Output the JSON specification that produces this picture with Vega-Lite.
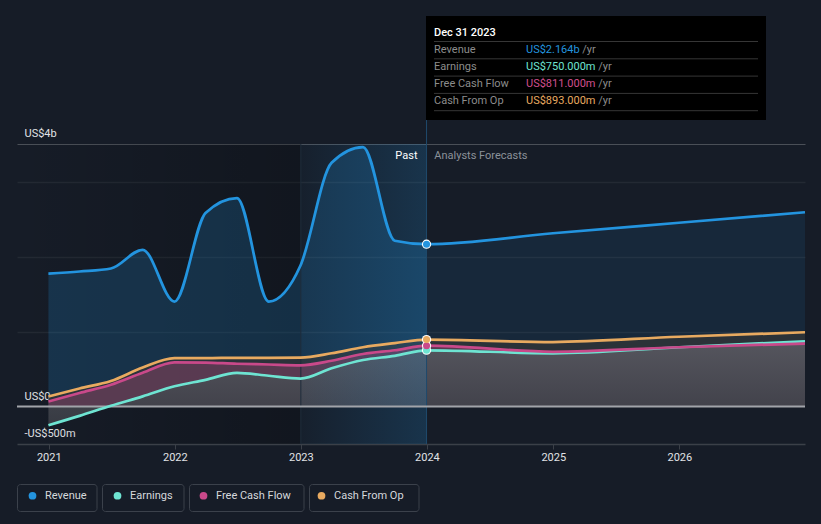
{
  "$schema": "https://vega.github.io/schema/vega-lite/v6.json",
  "width": 788,
  "height": 300,
  "autosize": {"type": "none"},
  "padding": {"left": 17, "top": 144, "right": 16, "bottom": 80},
  "background": "#161c27",
  "config": {"view": {"stroke": null}, "font": "Roboto", "text": {"font": "Roboto"}},
  "data": {"values": [
    {"date": "2020-12-31", "series": "Revenue", "value": 1.77},
    {"date": "2021-03-31", "series": "Revenue", "value": 1.80},
    {"date": "2021-06-30", "series": "Revenue", "value": 1.84},
    {"date": "2021-09-30", "series": "Revenue", "value": 2.09},
    {"date": "2021-12-31", "series": "Revenue", "value": 1.40},
    {"date": "2022-03-31", "series": "Revenue", "value": 2.58},
    {"date": "2022-06-30", "series": "Revenue", "value": 2.78},
    {"date": "2022-09-30", "series": "Revenue", "value": 1.40},
    {"date": "2022-12-31", "series": "Revenue", "value": 1.88},
    {"date": "2023-03-31", "series": "Revenue", "value": 3.25},
    {"date": "2023-06-30", "series": "Revenue", "value": 3.46},
    {"date": "2023-09-30", "series": "Revenue", "value": 2.21},
    {"date": "2023-12-31", "series": "Revenue", "value": 2.164},
    {"date": "2024-12-31", "series": "Revenue", "value": 2.31},
    {"date": "2025-12-31", "series": "Revenue", "value": 2.45},
    {"date": "2026-12-31", "series": "Revenue", "value": 2.59},
    {"date": "2020-12-31", "series": "Earnings", "value": -0.25},
    {"date": "2021-03-31", "series": "Earnings", "value": -0.125},
    {"date": "2021-06-30", "series": "Earnings", "value": 0.01},
    {"date": "2021-09-30", "series": "Earnings", "value": 0.135},
    {"date": "2021-12-31", "series": "Earnings", "value": 0.27},
    {"date": "2022-03-31", "series": "Earnings", "value": 0.355},
    {"date": "2022-06-30", "series": "Earnings", "value": 0.45},
    {"date": "2022-09-30", "series": "Earnings", "value": 0.41},
    {"date": "2022-12-31", "series": "Earnings", "value": 0.373},
    {"date": "2023-03-31", "series": "Earnings", "value": 0.51},
    {"date": "2023-06-30", "series": "Earnings", "value": 0.62},
    {"date": "2023-09-30", "series": "Earnings", "value": 0.675},
    {"date": "2023-12-31", "series": "Earnings", "value": 0.75},
    {"date": "2024-12-31", "series": "Earnings", "value": 0.71},
    {"date": "2025-12-31", "series": "Earnings", "value": 0.79},
    {"date": "2026-12-31", "series": "Earnings", "value": 0.87},
    {"date": "2020-12-31", "series": "Free Cash Flow", "value": 0.067},
    {"date": "2021-03-31", "series": "Free Cash Flow", "value": 0.18},
    {"date": "2021-06-30", "series": "Free Cash Flow", "value": 0.29},
    {"date": "2021-09-30", "series": "Free Cash Flow", "value": 0.45},
    {"date": "2021-12-31", "series": "Free Cash Flow", "value": 0.59},
    {"date": "2022-03-31", "series": "Free Cash Flow", "value": 0.585},
    {"date": "2022-06-30", "series": "Free Cash Flow", "value": 0.57},
    {"date": "2022-09-30", "series": "Free Cash Flow", "value": 0.56},
    {"date": "2022-12-31", "series": "Free Cash Flow", "value": 0.55},
    {"date": "2023-03-31", "series": "Free Cash Flow", "value": 0.61},
    {"date": "2023-06-30", "series": "Free Cash Flow", "value": 0.70},
    {"date": "2023-09-30", "series": "Free Cash Flow", "value": 0.75},
    {"date": "2023-12-31", "series": "Free Cash Flow", "value": 0.811},
    {"date": "2024-12-31", "series": "Free Cash Flow", "value": 0.73},
    {"date": "2025-12-31", "series": "Free Cash Flow", "value": 0.79},
    {"date": "2026-12-31", "series": "Free Cash Flow", "value": 0.84},
    {"date": "2020-12-31", "series": "Cash From Op", "value": 0.133},
    {"date": "2021-03-31", "series": "Cash From Op", "value": 0.24},
    {"date": "2021-06-30", "series": "Cash From Op", "value": 0.34},
    {"date": "2021-09-30", "series": "Cash From Op", "value": 0.52},
    {"date": "2021-12-31", "series": "Cash From Op", "value": 0.645},
    {"date": "2022-03-31", "series": "Cash From Op", "value": 0.645},
    {"date": "2022-06-30", "series": "Cash From Op", "value": 0.65},
    {"date": "2022-09-30", "series": "Cash From Op", "value": 0.65},
    {"date": "2022-12-31", "series": "Cash From Op", "value": 0.653},
    {"date": "2023-03-31", "series": "Cash From Op", "value": 0.71},
    {"date": "2023-06-30", "series": "Cash From Op", "value": 0.79},
    {"date": "2023-09-30", "series": "Cash From Op", "value": 0.845},
    {"date": "2023-12-31", "series": "Cash From Op", "value": 0.893},
    {"date": "2024-12-31", "series": "Cash From Op", "value": 0.86},
    {"date": "2025-12-31", "series": "Cash From Op", "value": 0.93},
    {"date": "2026-12-31", "series": "Cash From Op", "value": 0.99}
  ]},
  "layer": [
    {
      "data": {"values": [{}]},
      "mark": {"type": "rect", "fill": {"gradient": "linear", "x1": 0, "y1": 0, "x2": 1, "y2": 0, "stops": [{"offset": 0, "color": "rgba(0,0,0,0)"}, {"offset": 1, "color": "rgba(0,0,0,0.22)"}]}},
      "encoding": {
        "x": {"datum": {"year": 2020, "month": 10, "date": 1, "utc": true}, "type": "temporal"},
        "x2": {"datum": {"year": 2023, "month": 1, "date": 1, "utc": true}},
        "y": {"value": 0},
        "y2": {"value": 300}
      }
    },
    {
      "transform": [{"filter": {"and": [{"field": "series", "equal": "Revenue"}, {"field": "date", "lte": {"year": 2023, "month": 12, "date": 31, "utc": true}}]}}],
      "mark": {"type": "area", "interpolate": "monotone", "fill": "#2394df", "fillOpacity": 0.2},
      "encoding": {
        "x": {"field": "date", "type": "temporal",
          "scale": {"type": "utc", "domain": [{"year": 2020, "month": 10, "date": 1, "utc": true}, {"year": 2026, "month": 12, "date": 31, "utc": true}], "nice": false},
          "axis": {"title": null, "format": "%Y", "tickCount": "year", "grid": false, "domain": true, "domainColor": "#3b4048", "domainWidth": 1.5, "ticks": true, "tickColor": "#3b4048", "tickSize": 5, "labelColor": "#e1e3e6", "labelFontSize": 11, "labelPadding": 2, "labelFont": "Roboto"}},
        "y": {"field": "value", "type": "quantitative", "stack": null,
          "scale": {"domain": [-0.5, 3.5], "nice": false, "zero": false},
          "axis": {"title": null, "values": [-0.5, 0, 1, 2, 3, 3.5],
            "labelExpr": "datum.value === 0 ? 'US$0' : datum.value < 0 ? '-US$' + format(-datum.value * 1000, '.0f') + 'm' : datum.value === 3.5 ? 'US$' + format(datum.value, '.0f') + 'b' : ''",
            "domain": false, "ticks": false, "grid": true,
            "gridColor": {"condition": {"test": "datum.value === 3.5", "value": "#4a4f57"}, "value": "#232933"},
            "gridOpacity": {"condition": {"test": "datum.value <= 0", "value": 0}, "value": 1},
            "gridWidth": {"condition": {"test": "datum.value === 3.5", "value": 1}, "value": 1.5},
            "labelAlign": "left", "labelBaseline": "alphabetic", "labelPadding": -7, "labelOffset": -7.5,
            "labelColor": "#e1e3e6", "labelFontSize": 11, "labelFont": "Roboto", "labelFlush": false, "labelOverlap": false}},
        "y2": {"datum": 0}
      }
    },
    {
      "transform": [{"filter": {"and": [{"field": "series", "equal": "Revenue"}, {"field": "date", "gte": {"year": 2023, "month": 12, "date": 31, "utc": true}}]}}],
      "mark": {"type": "area", "interpolate": "monotone", "fill": "#2394df", "fillOpacity": 0.1},
      "encoding": {
        "x": {"field": "date", "type": "temporal"},
        "y": {"field": "value", "type": "quantitative", "stack": null},
        "y2": {"datum": 0}
      }
    },
    {
      "transform": [{"filter": {"field": "series", "equal": "Cash From Op"}}],
      "mark": {"type": "area", "interpolate": "monotone", "fill": "#2e3338", "fillOpacity": 0.9},
      "encoding": {
        "x": {"field": "date", "type": "temporal"},
        "y": {"field": "value", "type": "quantitative", "stack": null},
        "y2": {"datum": 0}
      }
    },
    {
      "transform": [{"filter": {"field": "series", "equal": "Free Cash Flow"}}],
      "mark": {"type": "area", "interpolate": "monotone", "fill": "#b04a7e", "fillOpacity": 0.35},
      "encoding": {
        "x": {"field": "date", "type": "temporal"},
        "y": {"field": "value", "type": "quantitative", "stack": null},
        "y2": {"datum": 0}
      }
    },
    {
      "transform": [{"filter": {"field": "series", "equal": "Earnings"}}],
      "mark": {"type": "area", "interpolate": "monotone", "fillOpacity": 0.92, "fill": {"gradient": "linear", "x1": 0, "y1": 0, "x2": 0, "y2": 1, "stops": [{"offset": 0, "color": "#55585f"}, {"offset": 1, "color": "#3a3d45"}]}},
      "encoding": {
        "x": {"field": "date", "type": "temporal"},
        "y": {"field": "value", "type": "quantitative", "stack": null},
        "y2": {"datum": 0}
      }
    },
    {
      "data": {"values": [{}]},
      "mark": {"type": "rect", "fill": {"gradient": "linear", "x1": 0, "y1": 0, "x2": 1, "y2": 0, "stops": [{"offset": 0, "color": "rgba(35,148,223,0.03)"}, {"offset": 1, "color": "rgba(35,148,223,0.2)"}]}},
      "encoding": {
        "x": {"datum": {"year": 2023, "month": 1, "date": 1, "utc": true}, "type": "temporal"},
        "x2": {"datum": {"year": 2023, "month": 12, "date": 31, "utc": true}},
        "y": {"value": 0},
        "y2": {"value": 300}
      }
    },
    {
      "data": {"values": [{}]},
      "mark": {"type": "rule", "color": "#1f2d3c", "strokeWidth": 1},
      "encoding": {
        "x": {"datum": {"year": 2023, "month": 1, "date": 1, "utc": true}, "type": "temporal"},
        "y": {"value": 0},
        "y2": {"value": 300}
      }
    },
    {
      "data": {"values": [{}]},
      "mark": {"type": "rule", "color": "#1f4a6c", "strokeWidth": 1},
      "encoding": {
        "x": {"datum": {"year": 2023, "month": 12, "date": 31, "utc": true}, "type": "temporal"},
        "y": {"value": -24},
        "y2": {"value": 300}
      }
    },
    {
      "data": {"values": [{}]},
      "mark": {"type": "rule", "color": "#a1a4aa", "strokeWidth": 2},
      "encoding": {"y": {"datum": 0, "type": "quantitative"}}
    },
    {
      "mark": {"type": "line", "interpolate": "monotone", "strokeWidth": 2.75},
      "encoding": {
        "x": {"field": "date", "type": "temporal"},
        "y": {"field": "value", "type": "quantitative", "stack": null},
        "color": {"field": "series", "type": "nominal",
          "scale": {"domain": ["Revenue", "Earnings", "Free Cash Flow", "Cash From Op"], "range": ["#2394df", "#6ee4d2", "#c9498a", "#e8aa60"]},
          "legend": {"orient": "none", "legendX": 10, "legendY": 346, "direction": "horizontal", "title": null,
            "symbolType": "circle", "symbolSize": 60, "symbolStrokeWidth": 0, "symbolOpacity": 1,
            "labelFontSize": 11, "labelFont": "Roboto", "labelColor": "#d5d8dc", "labelOffset": 7,
            "columnPadding": 25, "padding": 0,
            "encode": {"symbols": {"update": {"fill": {"scale": "color", "field": "value"}, "stroke": {"value": "transparent"}, "strokeWidth": {"value": 0}}}}}}
      }
    },
    {
      "transform": [{"filter": {"field": "date", "equal": {"year": 2023, "month": 12, "date": 31, "utc": true}}}],
      "mark": {"type": "point", "filled": true, "shape": "circle", "size": 85, "color": "#ffffff", "opacity": 1},
      "encoding": {
        "x": {"field": "date", "type": "temporal"},
        "y": {"field": "value", "type": "quantitative", "stack": null}
      }
    },
    {
      "transform": [{"filter": {"field": "date", "equal": {"year": 2023, "month": 12, "date": 31, "utc": true}}}],
      "mark": {"type": "point", "filled": true, "shape": "circle", "size": 50, "opacity": 1},
      "encoding": {
        "x": {"field": "date", "type": "temporal"},
        "y": {"field": "value", "type": "quantitative", "stack": null},
        "fill": {"field": "series", "type": "nominal", "legend": null,
          "scale": {"domain": ["Revenue", "Earnings", "Free Cash Flow", "Cash From Op"], "range": ["#2394df", "#6ee4d2", "#c9498a", "#e8aa60"]}}
      }
    },
    {
      "data": {"values": [{}]},
      "mark": {"type": "text", "text": "Past", "align": "right", "baseline": "alphabetic", "fontSize": 11, "fill": "#ffffff", "x": 400.5, "y": 15.3}
    },
    {
      "data": {"values": [{}]},
      "mark": {"type": "text", "text": "Analysts Forecasts", "align": "left", "baseline": "alphabetic", "fontSize": 11, "fill": "#8b9199", "x": 417.3, "y": 15.3}
    },
    {
      "data": {"values": [{}]},
      "mark": {"type": "rect", "fill": "#000000"},
      "encoding": {"x": {"value": 409}, "x2": {"value": 749}, "y": {"value": -128}, "y2": {"value": -24}}
    },
    {
      "data": {"values": [{}]},
      "mark": {"type": "text", "text": "Dec 31 2023", "align": "left", "baseline": "alphabetic", "fontSize": 11, "fontWeight": 500, "fill": "#ffffff", "x": 417, "y": -108.3}
    },
    {"data": {"values": [{}]}, "mark": {"type": "rule", "color": "#363636", "strokeWidth": 1}, "encoding": {"x": {"value": 417}, "x2": {"value": 741}, "y": {"value": -102.5}}},
    {"data": {"values": [{}]}, "mark": {"type": "rule", "color": "#363636", "strokeWidth": 1}, "encoding": {"x": {"value": 417}, "x2": {"value": 741}, "y": {"value": -85.2}}},
    {"data": {"values": [{}]}, "mark": {"type": "rule", "color": "#363636", "strokeWidth": 1}, "encoding": {"x": {"value": 417}, "x2": {"value": 741}, "y": {"value": -67.9}}},
    {"data": {"values": [{}]}, "mark": {"type": "rule", "color": "#363636", "strokeWidth": 1}, "encoding": {"x": {"value": 417}, "x2": {"value": 741}, "y": {"value": -50.6}}},
    {"data": {"values": [{}]}, "mark": {"type": "rule", "color": "#363636", "strokeWidth": 1}, "encoding": {"x": {"value": 417}, "x2": {"value": 741}, "y": {"value": -33.3}}},
    {
      "data": {"values": [{}]},
      "mark": {"type": "text", "text": ["Revenue", "Earnings", "Free Cash Flow", "Cash From Op"], "lineHeight": 17.2, "align": "left", "baseline": "alphabetic", "fontSize": 11, "fill": "#8c8c8c", "x": 417, "y": -91.3}
    },
    {"data": {"values": [{}]}, "mark": {"type": "text", "text": "US$2.164b", "align": "left", "baseline": "alphabetic", "fontSize": 11, "fill": "#2394df", "x": 509, "y": -91.3}},
    {"data": {"values": [{}]}, "mark": {"type": "text", "text": "US$750.000m", "align": "left", "baseline": "alphabetic", "fontSize": 11, "fill": "#6ee4d2", "x": 509, "y": -74.1}},
    {"data": {"values": [{}]}, "mark": {"type": "text", "text": "US$811.000m", "align": "left", "baseline": "alphabetic", "fontSize": 11, "fill": "#d04f8e", "x": 509, "y": -56.9}},
    {"data": {"values": [{}]}, "mark": {"type": "text", "text": "US$893.000m", "align": "left", "baseline": "alphabetic", "fontSize": 11, "fill": "#e8aa60", "x": 509, "y": -39.7}},
    {"data": {"values": [{}]}, "mark": {"type": "text", "text": "/yr", "align": "left", "baseline": "alphabetic", "fontSize": 11, "fill": "#8c8c8c", "x": 565.3, "y": -91.3}},
    {"data": {"values": [{}]}, "mark": {"type": "text", "text": ["/yr", "/yr", "/yr"], "lineHeight": 17.2, "align": "left", "baseline": "alphabetic", "fontSize": 11, "fill": "#8c8c8c", "x": 581.3, "y": -74.1}},
    {"data": {"values": [{}]}, "mark": {"type": "rect", "fill": "transparent", "stroke": "#3b414b", "strokeWidth": 1, "cornerRadius": 3}, "encoding": {"x": {"value": 0.5}, "x2": {"value": 80}, "y": {"value": 340.5}, "y2": {"value": 367.5}}},
    {"data": {"values": [{}]}, "mark": {"type": "rect", "fill": "transparent", "stroke": "#3b414b", "strokeWidth": 1, "cornerRadius": 3}, "encoding": {"x": {"value": 85.5}, "x2": {"value": 167}, "y": {"value": 340.5}, "y2": {"value": 367.5}}},
    {"data": {"values": [{}]}, "mark": {"type": "rect", "fill": "transparent", "stroke": "#3b414b", "strokeWidth": 1, "cornerRadius": 3}, "encoding": {"x": {"value": 172.5}, "x2": {"value": 287}, "y": {"value": 340.5}, "y2": {"value": 367.5}}},
    {"data": {"values": [{}]}, "mark": {"type": "rect", "fill": "transparent", "stroke": "#3b414b", "strokeWidth": 1, "cornerRadius": 3}, "encoding": {"x": {"value": 292.5}, "x2": {"value": 402}, "y": {"value": 340.5}, "y2": {"value": 367.5}}}
  ]
}
